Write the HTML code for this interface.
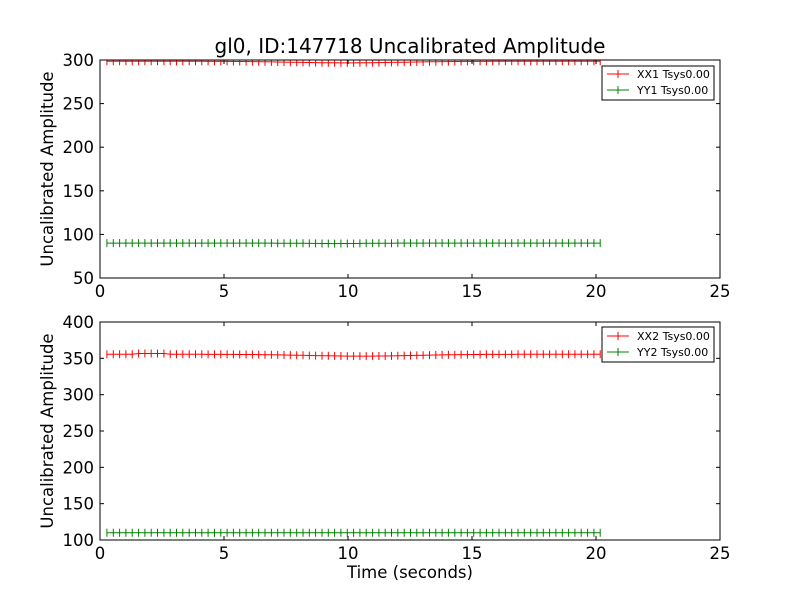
<!DOCTYPE html>
<html><head><style>body{margin:0;background:#fff}svg{display:block}text{font-family:"DejaVu Sans",sans-serif}</style></head>
<body>
<svg id="s" width="800" height="600" xmlns="http://www.w3.org/2000/svg">
<rect width="800" height="600" fill="#fff"/>
<text x="410" y="53" font-size="20" text-anchor="middle">gl0, ID:147718 Uncalibrated Amplitude</text>
<g id="data"></g>
<rect x="100" y="60" width="620" height="218" fill="none" stroke="#000"/>
<rect x="100" y="322" width="620" height="218" fill="none" stroke="#000"/>
<g id="ticks" stroke="#000"></g>
<g id="labels" font-size="16.5"></g>
<text x="410" y="578" font-size="16.5" text-anchor="middle">Time (seconds)</text>
<text transform="translate(53,169) rotate(-90)" font-size="16.5" text-anchor="middle">Uncalibrated Amplitude</text>
<text transform="translate(53,431) rotate(-90)" font-size="16.5" text-anchor="middle">Uncalibrated Amplitude</text>
<g font-size="11">
<rect x="602" y="66" width="112" height="34" fill="#fff" stroke="#000"/>
<line x1="607" y1="74" x2="629" y2="74" stroke="red"/><line x1="618" y1="70" x2="618" y2="78" stroke="red"/>
<text x="637" y="78">XX1 Tsys0.00</text>
<line x1="607" y1="90" x2="629" y2="90" stroke="green"/><line x1="618" y1="86" x2="618" y2="94" stroke="green"/>
<text x="637" y="94">YY1 Tsys0.00</text>
<rect x="602" y="327" width="112" height="35" fill="#fff" stroke="#000"/>
<line x1="607" y1="336" x2="629" y2="336" stroke="red"/><line x1="618" y1="332" x2="618" y2="340" stroke="red"/>
<text x="637" y="340">XX2 Tsys0.00</text>
<line x1="607" y1="352" x2="629" y2="352" stroke="green"/><line x1="618" y1="348" x2="618" y2="356" stroke="green"/>
<text x="637" y="356">YY2 Tsys0.00</text>
</g>
</svg>
<script>
const NS="http://www.w3.org/2000/svg";
function el(p,t,a,txt){const e=document.createElementNS(NS,t);for(const k in a)e.setAttribute(k,a[k]);if(txt!=null)e.textContent=txt;p.appendChild(e);return e;}
const d=document.getElementById('data'),tk=document.getElementById('ticks'),lb=document.getElementById('labels');
function X(t){return 100+t*24.8;}
function series(yfn,color,clipTop){let pts=[],m="";for(let i=0;i<79;i++){const t=0.28+i*0.255;const x=X(t),y=yfn(t,i);pts.push(x.toFixed(1)+","+y.toFixed(1));const y1=Math.max(y-4,clipTop),y2=y+4;m+=`M${x.toFixed(1)},${y1.toFixed(1)}V${y2.toFixed(1)}`;}
el(d,'polyline',{points:pts.join(' '),fill:'none',stroke:color,'stroke-width':1});el(d,'path',{d:m,stroke:color,'stroke-width':1});}
const Yt=v=>278-(v-50)*0.872, Yb=v=>540-(v-100)*0.7267;
series((t)=>Yt(298.5-1.8*Math.exp(-Math.pow((t-10)/3,2))),'red',60);
series((t)=>Yt(90-0.5*Math.exp(-Math.pow((t-9.5)/1.5,2))),'green',60);
series((t)=>Yb(355.5+ (t>1.5&&t<2.6?1.2:0) -2.5*Math.exp(-Math.pow((t-10.5)/3,2))),'red',322);
series((t)=>Yb(110),'green',322);
for(const [top,bot] of [[60,278],[322,540]]){for(let v=0;v<=25;v+=5){const x=X(v);el(tk,'line',{x1:x,y1:bot,x2:x,y2:bot-4});el(tk,'line',{x1:x,y1:top,x2:x,y2:top+4});el(lb,'text',{x:x,y:bot+19,'text-anchor':'middle'},v);}}
for(let v=50;v<=300;v+=50){const y=Yt(v);el(tk,'line',{x1:100,y1:y,x2:104,y2:y});el(tk,'line',{x1:720,y1:y,x2:716,y2:y});el(lb,'text',{x:94,y:y+6,'text-anchor':'end'},v);}
for(let v=100;v<=400;v+=50){const y=Yb(v);el(tk,'line',{x1:100,y1:y,x2:104,y2:y});el(tk,'line',{x1:720,y1:y,x2:716,y2:y});el(lb,'text',{x:94,y:y+6,'text-anchor':'end'},v);}
</script>
</body></html>
